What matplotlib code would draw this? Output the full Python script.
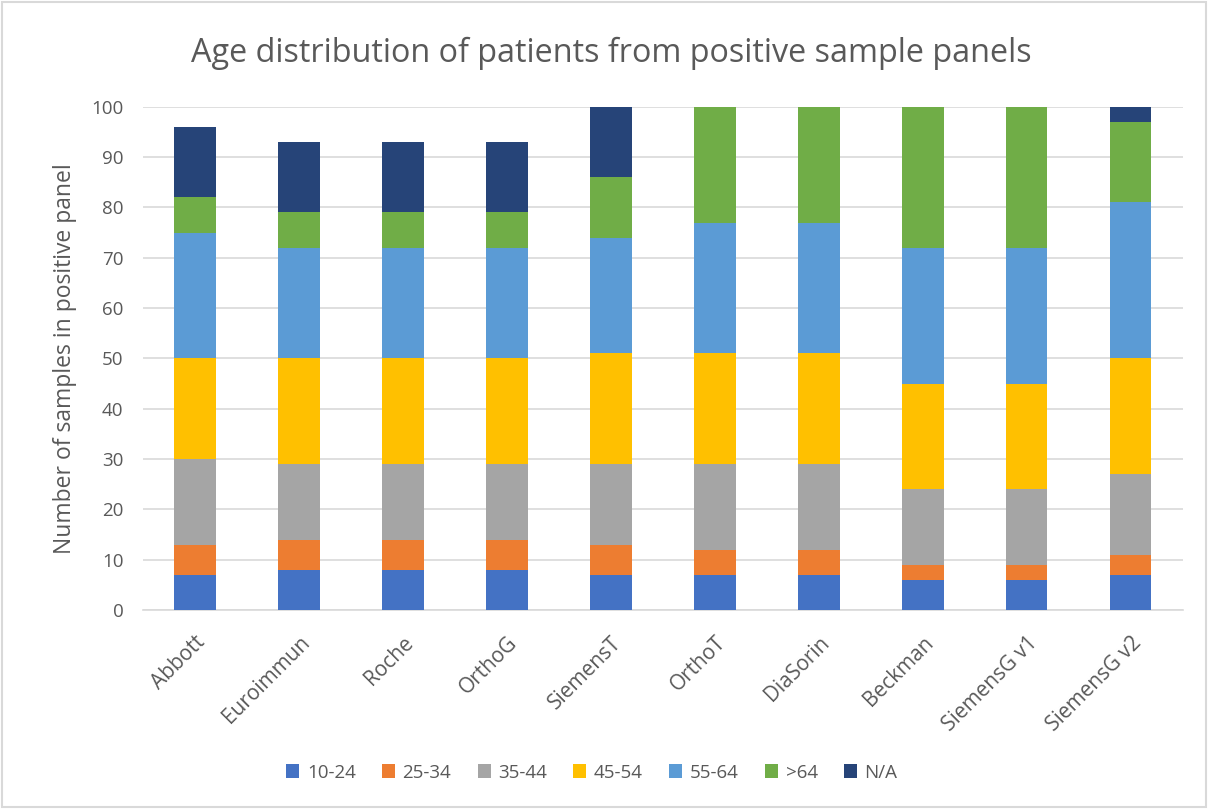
import numpy as np
import matplotlib
matplotlib.use('Agg')
import matplotlib.pyplot as plt
from matplotlib.patches import Rectangle

plt.rcParams['font.family'] = ['Open Sans', 'DejaVu Sans']

assays = ['Abbott', 'Euroimmun', 'Roche', 'OrthoG', 'SiemensT',
          'OrthoT', 'DiaSorin', 'Beckman', 'SiemensG v1', 'SiemensG v2']
age_groups = ['10-24', '25-34', '35-44', '45-54', '55-64', '>64', 'N/A']

age_10_24 = [7, 8, 8, 8, 7, 7, 7, 6, 6, 7]
age_25_34 = [6, 6, 6, 6, 6, 5, 5, 3, 3, 4]
age_35_44 = [17, 15, 15, 15, 16, 17, 17, 15, 15, 16]
age_45_54 = [20, 21, 21, 21, 22, 22, 22, 21, 21, 23]
age_55_64 = [25, 22, 22, 22, 23, 26, 26, 27, 27, 31]
age_over_64 = [7, 7, 7, 7, 12, 23, 23, 28, 28, 16]
age_na = [14, 14, 14, 14, 14, 0, 0, 0, 0, 3]

series = [age_10_24, age_25_34, age_35_44, age_45_54, age_55_64, age_over_64, age_na]
colors = ['#4472C4', '#ED7D31', '#A5A5A5', '#FFC000', '#5B9BD5', '#70AD47', '#264478']

fig = plt.figure(figsize=(12.08, 8.09), dpi=100)
ax = fig.add_axes([0.1184, 0.246, 0.8606, 0.622])

x = np.arange(len(assays))
bottom = np.zeros(len(assays))
for name, vals, c in zip(age_groups, series, colors):
    ax.bar(x, vals, width=0.4, bottom=bottom, color=c, label=name, zorder=3)
    bottom += np.array(vals)

ax.set_xlim(-0.5, len(assays) - 0.5)
ax.set_ylim(0, 100)
ax.set_yticks(np.arange(0, 101, 10))
ax.yaxis.grid(True, color='#d9d9d9', linewidth=1.2, zorder=0)
for s in ['top', 'right', 'left']:
    ax.spines[s].set_visible(False)
ax.spines['bottom'].set_color('#d9d9d9')
ax.spines['bottom'].set_linewidth(1.2)
ax.tick_params(axis='both', length=0, colors='#595959', labelsize=13.5)
ax.tick_params(axis='y', pad=14)
ax.set_xticks(x)
ax.set_xticklabels(assays, rotation=45, ha='right', rotation_mode='anchor', fontsize=15)
ax.tick_params(axis='x', pad=16)

ax.set_ylabel('Number of samples in positive panel', fontsize=16.5, color='#595959', labelpad=10)
fig.text(0.506, 0.934, 'Age distribution of patients from positive sample panels',
         ha='center', va='center', fontsize=23.3, color='#595959')

fig.legend(loc='center', bbox_to_anchor=(0.49, 0.045), ncol=7, frameon=False,
           fontsize=13.5, handlelength=0.7, handleheight=0.7, handletextpad=0.4,
           columnspacing=1.4, labelcolor='#595959')

fig.patches.append(Rectangle((0.002, 0.002), 0.996, 0.996, transform=fig.transFigure,
                             fill=False, edgecolor='#d9d9d9', linewidth=1.5))

fig.savefig('out.png', dpi=100)
